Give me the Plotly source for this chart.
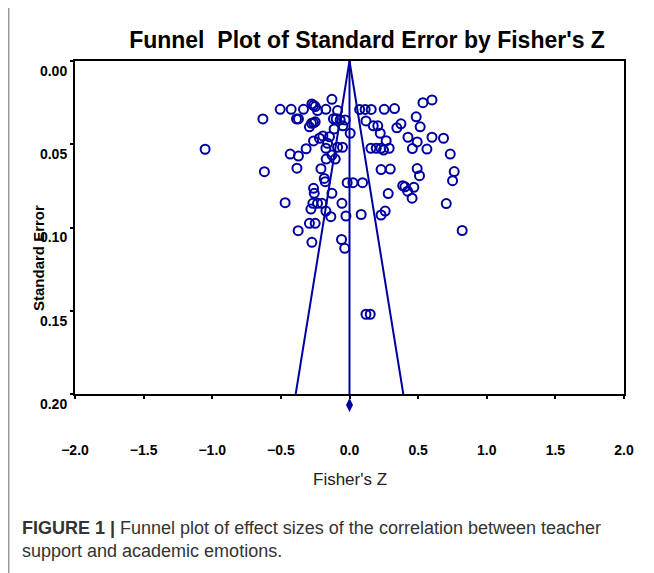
import plotly.graph_objects as go

# ---- data ----
fisher_z = [
    -1.052, -0.631, -0.620, -0.505, -0.425, -0.386, -0.372, -0.335, -0.274, -0.262,
    -0.250, -0.233, -0.172, -0.128, -0.292, -0.277, -0.262, -0.250, -0.117, -0.097,
    -0.087, -0.068, -0.048, -0.031, -0.112, 0.005, -0.262, -0.219, -0.194, -0.146,
    -0.160, -0.172, -0.316, -0.087, -0.051, -0.432, -0.372, -0.170, -0.128, -0.104,
    -0.383, -0.208, -0.184, -0.177, -0.017, 0.025, -0.262, -0.257, -0.128, -0.469,
    -0.281, -0.267, -0.233, -0.201, -0.172, -0.136, -0.055, -0.026, -0.292, -0.250,
    -0.374, -0.274, -0.058, -0.035, 0.085, 0.095,
    0.074, 0.114, 0.158, 0.253, 0.328, 0.535, 0.601,
    0.120, 0.173, 0.206, 0.224, 0.345, 0.375, 0.486, 0.515,
    0.426, 0.493, 0.458, 0.564, 0.601, 0.685, 0.734,
    0.156, 0.195, 0.229, 0.248, 0.267, 0.289,
    0.230, 0.297, 0.493, 0.510, 0.763, 0.751,
    0.388, 0.404, 0.423, 0.469, 0.456, 0.282,
    0.230, 0.260, 0.705, 0.821, 0.120, 0.151,
]
std_err = [
    0.0530, 0.0348, 0.0665, 0.0290, 0.0290, 0.0348, 0.0348, 0.0290, 0.0258, 0.0266,
    0.0274, 0.0298, 0.0290, 0.0230, 0.0395, 0.0374, 0.0371, 0.0365, 0.0347, 0.0347,
    0.0298, 0.0354, 0.0389, 0.0354, 0.0408, 0.0434, 0.0480, 0.0464, 0.0450, 0.0455,
    0.0494, 0.0524, 0.0527, 0.0518, 0.0518, 0.0559, 0.0571, 0.0589, 0.0565, 0.0589,
    0.0644, 0.0647, 0.0705, 0.0725, 0.0731, 0.0731, 0.0765, 0.0795, 0.0795, 0.0851,
    0.0889, 0.0855, 0.0855, 0.0855, 0.0901, 0.0935, 0.0855, 0.0931, 0.0975, 0.0975,
    0.1019, 0.1089, 0.1072, 0.1125, 0.0922, 0.0731,
    0.0291, 0.0291, 0.0291, 0.0290, 0.0286, 0.0250, 0.0234,
    0.0360, 0.0389, 0.0389, 0.0434, 0.0401, 0.0377, 0.0335, 0.0395,
    0.0458, 0.0486, 0.0526, 0.0529, 0.0458, 0.0464, 0.0559,
    0.0524, 0.0524, 0.0524, 0.0535, 0.0479, 0.0524,
    0.0652, 0.0649, 0.0646, 0.0689, 0.0664, 0.0719,
    0.0749, 0.0756, 0.0782, 0.0759, 0.0824, 0.0796,
    0.0925, 0.0901, 0.0856, 0.1018, 0.1521, 0.1521,
]
summary_z = 0.0
summary_se = 0.2066          # diamond drawn just below the axis
funnel_se = [0.0, 0.2]
x_ticks = [-2.0, -1.5, -1.0, -0.5, 0.0, 0.5, 1.0, 1.5, 2.0]
y_ticks = [0.00, 0.05, 0.10, 0.15, 0.20]

BLUE = "#0000a0"
FONT = "Liberation Sans, Arial, sans-serif"

# layout geometry (figure pixels; page has an 8px body margin)
W, H = 646, 565
L, R, T = 67, 30, 53
BOX_BOTTOM = 386          # bottom of the main plot box
STRIP = 20                # extra strip below box for the summary diamond
B = H - (BOX_BOTTOM + STRIP)
PLOT_H = BOX_BOTTOM + STRIP - T
BOX_H = BOX_BOTTOM - T
PLOT_W = W - L - R
se_per_px = (y_ticks[-1] - y_ticks[0]) / BOX_H

fig = go.Figure()

# funnel (pseudo 95% limits)
lo = [summary_z - 1.96 * s for s in funnel_se]
hi = [summary_z + 1.96 * s for s in funnel_se]
fig.add_trace(go.Scatter(x=[lo[1], lo[0], hi[1]], y=[funnel_se[1], funnel_se[0], funnel_se[1]],
                         mode="lines", line=dict(color=BLUE, width=2), hoverinfo="skip"))
fig.add_trace(go.Scatter(x=[summary_z, summary_z], y=funnel_se, mode="lines",
                         line=dict(color=BLUE, width=2), hoverinfo="skip"))

# studies
fig.add_trace(go.Scatter(x=fisher_z, y=std_err, mode="markers",
                         marker=dict(symbol="circle-open", size=9, color=BLUE,
                                     line=dict(width=2, color=BLUE))))

# summary diamond on a strip axis just below the box
fig.add_trace(go.Scatter(x=[summary_z], y=[summary_se], mode="markers",
                         xaxis="x2", yaxis="y2", cliponaxis=False,
                         marker=dict(symbol="diamond-tall", size=10, color=BLUE,
                                     line=dict(width=0))))

fig.update_layout(
    width=W, height=H,
    margin=dict(l=L, r=R, t=T, b=B, autoexpand=False),
    paper_bgcolor="white", plot_bgcolor="white",
    showlegend=False,
    font=dict(family=FONT, color="black"),
    title=dict(text="Funnel\u00a0 Plot of Standard Error by Fisher's Z",
               font=dict(family=FONT, size=23, color="black", weight="bold"),
               x=(359 - L) / PLOT_W, xref="paper", xanchor="center",
               y=1 - 32 / H, yref="container", yanchor="middle"),
    xaxis=dict(range=[-2, 2], tickvals=x_ticks, tickformat=".1f",
               showgrid=False, zeroline=False,
               showline=True, mirror=True, linecolor="black", linewidth=2,
               ticks="outside", ticklen=3, tickwidth=2, tickcolor="black",
               ticklabelstandoff=39,
               tickfont=dict(family=FONT, size=14, color="black", weight="bold")),
    yaxis=dict(range=[0.2, 0], tickvals=y_ticks, tickformat=".2f",
               domain=[STRIP / PLOT_H, 1],
               showgrid=False, zeroline=False,
               showline=True, mirror=True, linecolor="black", linewidth=2,
               ticks="outside", ticklen=3, tickwidth=2, tickcolor="black",
               ticklabelshift=-10,
               tickfont=dict(family=FONT, size=14, color="black", weight="bold")),
    xaxis2=dict(matches="x", anchor="y2", visible=False, overlaying="x"),
    yaxis2=dict(range=[y_ticks[-1] + STRIP * se_per_px, y_ticks[-1]],
                domain=[0, STRIP / PLOT_H], anchor="x2", visible=False),
)

# axis titles
fig.add_annotation(text="Fisher's Z", xref="x", x=0, yref="y domain", y=0,
                   yanchor="middle", yshift=-85, showarrow=False,
                   font=dict(family=FONT, size=17, color="#222222"))
fig.add_annotation(text="<b>Standard Error</b>", xref="x domain", x=0, xshift=-37,
                   xanchor="center", yref="y domain", y=(BOX_BOTTOM - 250) / BOX_H,
                   yanchor="middle", textangle=-90, showarrow=False,
                   font=dict(family=FONT, size=15, color="black"))

# caption
fig.add_annotation(text="<b>FIGURE 1 |</b> Funnel plot of effect sizes of the correlation between teacher"
                        "<br>support and academic emotions.",
                   xref="x domain", x=(12 - L) / PLOT_W, xanchor="left", align="left",
                   yref="y domain", y=(BOX_BOTTOM - 531) / BOX_H, yanchor="middle",
                   showarrow=False,
                   font=dict(family=FONT, size=18, color="#333333"))

# panel border at far left
fig.add_shape(type="line", xref="paper", yref="paper",
              x0=(0.75 - L) / PLOT_W, x1=(0.75 - L) / PLOT_W,
              y0=(BOX_BOTTOM + STRIP - H) / PLOT_H, y1=(BOX_BOTTOM + STRIP) / PLOT_H,
              line=dict(color="#9a9a9a", width=1.5))

fig.write_html("out.html")
